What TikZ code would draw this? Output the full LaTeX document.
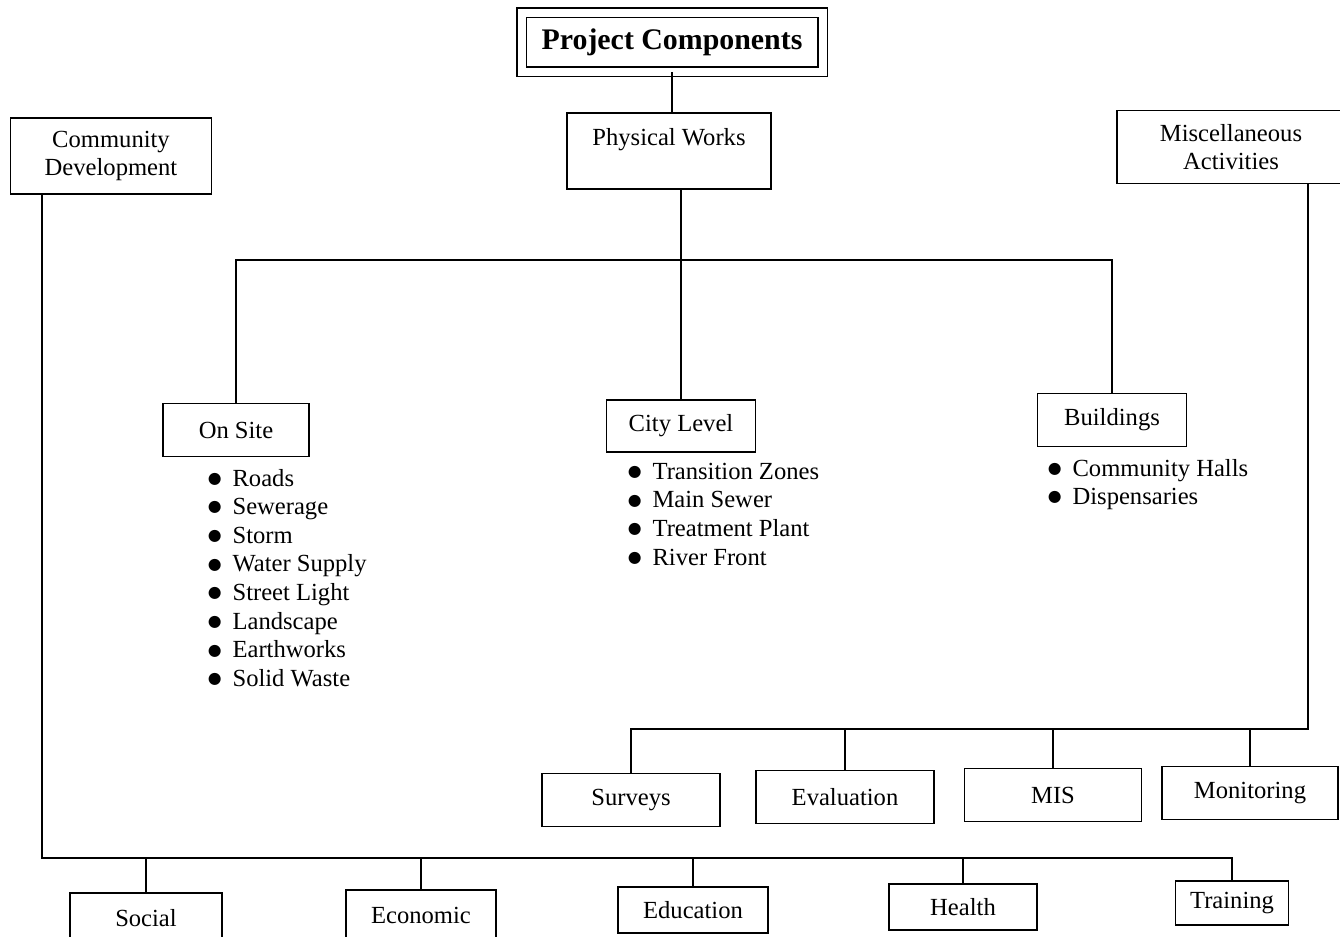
\documentclass[tikz,border=0pt]{standalone}
\usepackage{fontspec}
\setmainfont{Liberation Serif}
\newfontfamily\dotfont{DejaVu Sans}
\usetikzlibrary{positioning}
\tikzset{every node/.style={font=\fontsize{14}{16.3}\selectfont}}
\tikzset{box/.style={draw, line width=1.1pt, align=center, inner sep=2pt}}
\tikzset{itemlist/.style={anchor=north west, inner sep=0pt, align=left}}
\newcommand{\itm}{\makebox[14pt][l]{\raisebox{1.6pt}{\fontsize{9}{9}\dotfont ●}}}

\begin{document}
\begin{tikzpicture}[x=0.2mm, y=-0.2mm, line width=1.1pt]
		\useasboundingbox (0,0) rectangle (1340,936);
		
		\node(PC) [box, double, double distance=1.6mm, line width=0.7pt, minimum width=60.2mm, minimum height=11.8mm, font=\fontsize{17}{20}\selectfont\bfseries] at (672,42) {Project Components};
		\node(PW) [box, minimum width=40.8mm, minimum height=15.2mm] at (669,151) {Physical Works\\ \mbox{}};
		\node(CD) [box, minimum width=40.2mm, minimum height=15.2mm] at (111,156) {Community\\Development};
		\node(MA) [box, minimum width=45.6mm, minimum height=14.6mm] at (1231,147) {Miscellaneous\\Activities};
		
		\node(OS) [box, minimum width=29.2mm, minimum height=10.6mm] at (236,430) {On Site};
		\node(CL) [box, minimum width=29.8mm, minimum height=10.4mm] at (681,426) {City Level};
		\node(BD) [box, minimum width=29.8mm, minimum height=10.6mm] at (1112,420) {Buildings};
		
		\node(OSL) [itemlist] at (207,468) {\itm Roads\\ \itm Sewerage\\ \itm Storm\\ \itm Water Supply\\ \itm Street Light\\ \itm Landscape\\ \itm Earthworks\\ \itm Solid Waste};
		\node(CLL) [itemlist] at (627,462) {\itm Transition Zones\\ \itm Main Sewer\\ \itm Treatment Plant\\ \itm River Front};
		\node(BDL) [itemlist] at (1047,458) {\itm Community Halls\\ \itm Dispensaries};
		
		\node(SV) [box, minimum width=35.6mm, minimum height=10.6mm] at (631,800) {Surveys};
		\node(EV) [box, minimum width=35.6mm, minimum height=10.6mm] at (845,797) {Evaluation};
		\node(MI) [box, minimum width=35.4mm, minimum height=10.6mm] at (1053,795) {MIS};
		\node(MO) [box, minimum width=35.2mm, minimum height=10.6mm] at (1250,793) {Monitoring};
		
		\node(SO) [box, minimum width=30.4mm, minimum height=10mm] at (146,918) {Social};
		\node(EC) [box, minimum width=30mm, minimum height=10mm] at (421,915) {Economic};
		\node(ED) [box, minimum width=30mm, minimum height=9.2mm] at (693,910) {Education};
		\node(HE) [box, minimum width=29.6mm, minimum height=9.2mm] at (963,907) {Health};
		\node(TR) [box, minimum width=22.6mm, minimum height=8.8mm] at (1232,903) {Training};
		
		\coordinate (pwbus) at (683,260);
		\coordinate (cdbus) at (42,858);
		\coordinate (mabus) at (1308,729);
		
		\draw(PC.south) -- (PC.south |- PW.north);
		\draw(PW.south -| CL.north) -- (CL.north);
		\draw(OS.north) |- (pwbus) -| (BD.north);
		
		\draw(CD.south -| cdbus) -- (cdbus) -| (TR.north);
		\foreach \n in {SO,EC,ED,HE} \draw(\n.north) -- (\n.north |- cdbus);
		
		\draw(MA.south -| mabus) -- (mabus) -| (SV.north);
		\foreach \n in {EV,MI,MO} \draw(\n.north) -- (\n.north |- mabus);
		
	\end{tikzpicture}
\end{document}
